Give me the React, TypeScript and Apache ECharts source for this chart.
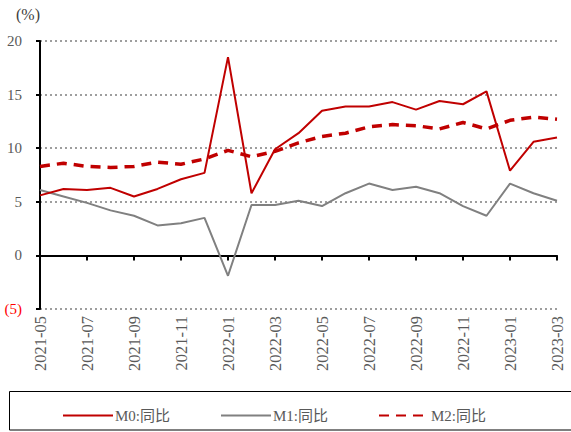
import React, { useEffect, useRef } from "react";
import * as echarts from "echarts";

const categories = [
  "2021-05", "2021-06", "2021-07", "2021-08", "2021-09", "2021-10", "2021-11", "2021-12",
  "2022-01", "2022-02", "2022-03", "2022-04", "2022-05", "2022-06", "2022-07", "2022-08",
  "2022-09", "2022-10", "2022-11", "2022-12", "2023-01", "2023-02", "2023-03",
];
const m0 = [5.6, 6.2, 6.1, 6.3, 5.5, 6.2, 7.1, 7.7, 18.5, 5.8, 9.9, 11.4, 13.5, 13.9, 13.9, 14.3, 13.6, 14.4, 14.1, 15.3, 7.9, 10.6, 11.0];
const m1 = [6.1, 5.5, 4.9, 4.2, 3.7, 2.8, 3.0, 3.5, -1.9, 4.7, 4.7, 5.1, 4.6, 5.8, 6.7, 6.1, 6.4, 5.8, 4.6, 3.7, 6.7, 5.8, 5.1];
const m2 = [8.3, 8.6, 8.3, 8.2, 8.3, 8.7, 8.5, 9.0, 9.8, 9.2, 9.7, 10.5, 11.1, 11.4, 12.0, 12.2, 12.1, 11.8, 12.4, 11.8, 12.6, 12.9, 12.7];
const seriesNames = ["M0:同比", "M1:同比", "M2:同比"];
const yTicks = { min: -5, max: 20, interval: 5 };

const FONT = "'Liberation Serif', 'Noto Sans CJK SC', serif";

export default function App() {
  const ref = useRef<HTMLDivElement>(null);
  useEffect(() => {
    if (!ref.current) return;
    const chart = echarts.init(ref.current, null, { renderer: "svg" });
    const legendTop = 403;
    chart.setOption({
      animation: false,
      textStyle: { fontFamily: FONT },
      grid: { left: 40, right: 14, top: 41, bottom: 123, containLabel: false },
      graphic: [
        {
          type: "text",
          left: 16,
          top: 6,
          style: { text: "(%)", fontFamily: FONT, fontSize: 16, fill: "#404040" },
        },
        {
          type: "rect",
          shape: { x: 9.5, y: 391.5, width: 570, height: 38.5 },
          style: { fill: "none", stroke: "#000", lineWidth: 1 },
        },
      ],
      legend: seriesNames.map((n, i) => ({
        data: [n],
        left: [57, 215, 373][i],
        top: legendTop,
        itemWidth: 50,
        itemHeight: 14,
        itemGap: 4,
        itemStyle: { opacity: 0 },
        textStyle: { fontFamily: FONT, fontSize: 15, color: "#595959", padding: [0, 0, 0, -3] },
      })),
      xAxis: [
        {
          type: "category",
          data: categories,
          boundaryGap: false,
          axisLine: { onZero: true, lineStyle: { color: "#000", width: 2 } },
          axisTick: { show: true, interval: 1, length: 5, lineStyle: { color: "#000", width: 2 } },
          axisLabel: { show: false },
          splitLine: { show: false },
        },
        {
          type: "category",
          data: categories,
          boundaryGap: false,
          position: "bottom",
          axisLine: { show: false, onZero: false },
          axisTick: { show: false },
          axisLabel: {
            interval: 1,
            rotate: 90,
            margin: 7,
            fontSize: 16.5,
            fontFamily: FONT,
            color: "#595959",
          },
        },
      ],
      yAxis: {
        type: "value",
        min: yTicks.min,
        max: yTicks.max,
        interval: yTicks.interval,
        axisLine: { show: true, lineStyle: { color: "#000", width: 2 } },
        axisTick: { show: true, length: 4, lineStyle: { color: "#000", width: 2 } },
        axisLabel: {
          margin: 18,
          fontSize: 15,
          fontFamily: FONT,
          color: (v: any) => (Number(v) < 0 ? "#FF0000" : "#595959"),
          formatter: (v: number) => (v < 0 ? `(${Math.abs(v)})` : `${v}`),
        },
        splitLine: {
          show: true,
          lineStyle: { color: "#7f7f7f", type: [2, 3], width: 1.5 },
        },
      },
      series: [
        {
          name: seriesNames[0],
          type: "line",
          data: m0,
          symbol: "none",
          lineStyle: { color: "#C00000", width: 2 },
          itemStyle: { color: "#C00000" },
          z: 4,
        },
        {
          name: seriesNames[1],
          type: "line",
          data: m1,
          symbol: "none",
          lineStyle: { color: "#808080", width: 2 },
          itemStyle: { color: "#808080" },
          z: 3,
        },
        {
          name: seriesNames[2],
          type: "line",
          data: m2,
          symbol: "none",
          lineStyle: { color: "#C00000", width: 3.5, type: [10, 7] },
          itemStyle: { color: "#C00000" },
          z: 5,
        },
      ],
    });
    return () => chart.dispose();
  }, []);
  return <div ref={ref} style={{ width: 571, height: 432, position: "absolute", left: 0, top: 0 }} />;
}
